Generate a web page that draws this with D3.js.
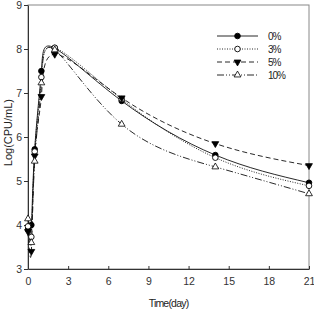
<!DOCTYPE html>
<html>
<head>
<meta charset="utf-8">
<script src="https://cdn.jsdelivr.net/npm/d3@7"></script>
<style>
  body { margin: 0; background: #fff; }
  svg { display: block; font-family: "Liberation Sans", Arial, sans-serif; }
</style>
</head>
<body>
<div id="chart"></div>
<script>
// sampling times (day)
const days = [0, 0.25, 0.5, 1, 2, 7, 14, 21];
const seriesNames = ["0%", "3%", "5%", "10%"];
const conc0 = [3.9, 4.0, 5.72, 7.5, 8.02, 6.82, 5.59, 4.96];
const conc3 = [3.97, 3.73, 5.67, 7.36, 8.03, 6.86, 5.53, 4.89];
const conc5 = [3.85, 3.4, 5.57, 6.92, 7.88, 6.89, 5.85, 5.35];
const conc10 = [4.14, 3.6, 5.45, 7.23, 7.98, 6.29, 5.32, 4.71];
const xTicks = [0, 3, 6, 9, 12, 15, 18, 21];
const yTicks = [3, 4, 5, 6, 7, 8, 9];

const series = [
  { name: seriesNames[0], values: conc0, dash: null, marker: "circle", fill: "#000" },
  { name: seriesNames[1], values: conc3, dash: "1,1.5", marker: "circle", fill: "#fff" },
  { name: seriesNames[2], values: conc5, dash: "5,3", marker: "down", fill: "#000" },
  { name: seriesNames[3], values: conc10, dash: "7,2,1,2,1,2", marker: "up", fill: "#fff" }
];

const W = 314, H = 309;
const m = { left: 28, right: 5, top: 5, bottom: 40 };

const svg = d3.select("#chart").append("svg")
  .attr("width", W).attr("height", H);

const x = d3.scaleLinear().domain([0, 21]).range([m.left, W - m.right]);
const y = d3.scaleLinear().domain([3, 9]).range([H - m.bottom, m.top]);

// frame
svg.append("rect")
  .attr("x", m.left).attr("y", m.top)
  .attr("width", W - m.right - m.left).attr("height", H - m.bottom - m.top)
  .attr("fill", "none").attr("stroke", "#888").attr("stroke-width", 1);

const xAxis = svg.append("g")
  .attr("transform", `translate(0,${H - m.bottom})`)
  .call(d3.axisBottom(x).tickValues(xTicks).tickFormat(d3.format("d"))
    .tickSizeInner(-3).tickSizeOuter(0).tickPadding(9));
const yAxis = svg.append("g")
  .attr("transform", `translate(${m.left},0)`)
  .call(d3.axisLeft(y).tickValues(yTicks).tickFormat(d3.format("d"))
    .tickSize(4).tickSizeOuter(0).tickPadding(2));

[xAxis, yAxis].forEach(a => {
  a.select(".domain").attr("stroke", "#333");
  a.selectAll(".tick line").attr("stroke", "#333");
  a.selectAll("text").attr("font-size", 10.5).attr("fill", "#333")
    .attr("font-family", "'Liberation Sans', Arial, sans-serif");
});
xAxis.selectAll("text").attr("dy", "0.71em");

// axis titles
svg.append("text")
  .attr("x", x(10.5)).attr("y", H - 2)
  .attr("text-anchor", "middle").attr("font-size", 10.5)
  .attr("letter-spacing", -0.8).attr("fill", "#222")
  .text("Time(day)");
svg.append("text")
  .attr("transform", `translate(12,${y(6.1)}) rotate(-90)`)
  .attr("text-anchor", "middle").attr("font-size", 11).attr("fill", "#222")
  .text("Log(CPU/mL)");

const line = d3.line()
  .x((d, i) => x(days[i]))
  .y(d => y(d))
  .curve(d3.curveNatural);

const tri = d3.symbol().type(d3.symbolTriangle).size(20);

function drawMarker(g, s, cx, cy) {
  if (s.marker === "circle") {
    g.append("circle").attr("cx", cx).attr("cy", cy).attr("r", 2.8)
      .attr("fill", s.fill).attr("stroke", "#000").attr("stroke-width", 0.9);
  } else {
    g.append("path").attr("d", tri())
      .attr("transform", `translate(${cx},${cy})${s.marker === "down" ? " rotate(180)" : ""}`)
      .attr("fill", s.fill).attr("stroke", "#000").attr("stroke-width", 0.8);
  }
}

const plot = svg.append("g");
series.forEach(s => {
  plot.append("path")
    .attr("d", line(s.values))
    .attr("fill", "none").attr("stroke", "#111").attr("stroke-width", 0.9)
    .attr("stroke-dasharray", s.dash);
});
series.forEach(s => {
  const g = plot.append("g");
  s.values.forEach((v, i) => drawMarker(g, s, x(days[i]), y(v)));
});

// legend
const lg = svg.append("g").attr("transform", "translate(217,36)");
series.forEach((s, i) => {
  const row = lg.append("g").attr("transform", `translate(0,${i * 13})`);
  row.append("line").attr("x1", 0).attr("x2", 41).attr("y1", 0).attr("y2", 0)
    .attr("stroke", "#111").attr("stroke-width", 0.9).attr("stroke-dasharray", s.dash);
  drawMarker(row, s, 20.5, 0);
  row.append("text").attr("x", 51).attr("y", 0).attr("dy", "0.35em")
    .attr("font-size", 10).attr("letter-spacing", -1).attr("fill", "#222")
    .text(s.name);
});
</script>
</body>
</html>
